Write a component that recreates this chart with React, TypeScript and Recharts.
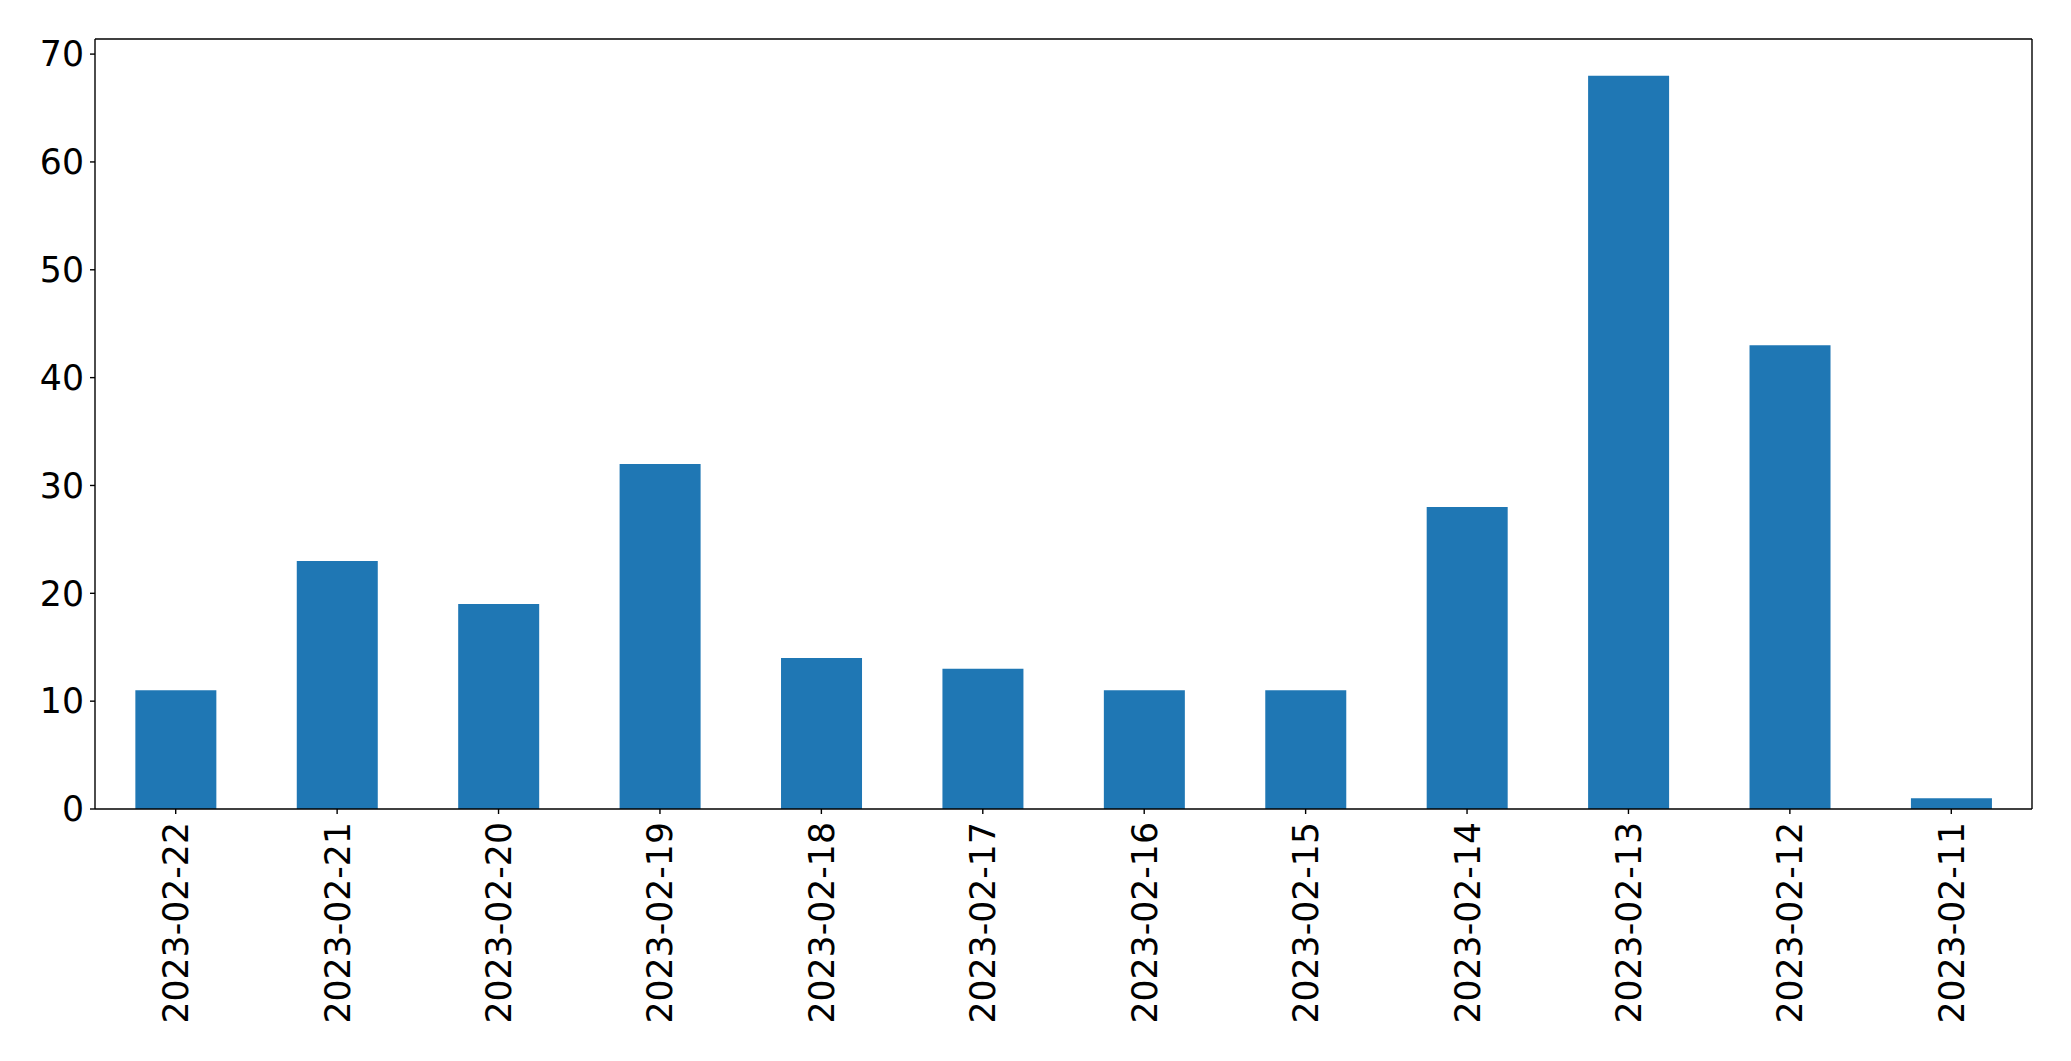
import React from 'react';
import { BarChart, Bar, XAxis, YAxis } from 'recharts';

const categories = [
  '2023-02-22', '2023-02-21', '2023-02-20', '2023-02-19', '2023-02-18', '2023-02-17',
  '2023-02-16', '2023-02-15', '2023-02-14', '2023-02-13', '2023-02-12', '2023-02-11',
];
const counts = [11, 23, 19, 32, 14, 13, 11, 11, 28, 68, 43, 1];
const yTicks = [0, 10, 20, 30, 40, 50, 60, 70];

const data = categories.map((date, i) => ({ date, count: counts[i] }));

const FONT = 'DejaVu Sans';
const FS = 34.7;
const LW = 1.4;

const XTick = (props: any) => {
  const { x, y, payload } = props;
  return (
    <g transform={`translate(${x},${y})`}>
      <text
        transform="rotate(-90)"
        textAnchor="end"
        dx={-8}
        dy="0.36em"
        fontSize={FS}
        fontFamily={FONT}
        fill="#000"
      >
        {payload.value}
      </text>
    </g>
  );
};

export default function App() {
  return (
    <div style={{ position: 'absolute', left: 0, top: 0, width: 2071, height: 1061, background: '#fff' }}>
      <BarChart
        width={2071}
        height={1061}
        data={data}
        margin={{ top: 38, right: 38, left: 0, bottom: 0 }}
        barCategoryGap="25%"
      >
        <XAxis
          dataKey="date"
          height={252}
          interval={0}
          tickSize={5}
          tickMargin={0}
          tick={<XTick />}
          stroke="#000"
          axisLine={{ stroke: '#000', strokeWidth: LW }}
          tickLine={{ stroke: '#000', strokeWidth: LW }}
        />
        <XAxis
          xAxisId="top"
          dataKey="date"
          orientation="top"
          height={1}
          tick={false}
          tickLine={false}
          stroke="#000"
          axisLine={{ stroke: '#000', strokeWidth: LW }}
        />
        <YAxis
          width={95}
          domain={[0, 71.4]}
          ticks={yTicks}
          interval={0}
          tickSize={5}
          tickMargin={6}
          stroke="#000"
          tick={{ fontSize: FS, fontFamily: FONT, fill: '#000' }}
          axisLine={{ stroke: '#000', strokeWidth: LW }}
          tickLine={{ stroke: '#000', strokeWidth: LW }}
        />
        <YAxis
          yAxisId="right"
          orientation="right"
          width={1}
          domain={[0, 71.4]}
          tick={false}
          tickLine={false}
          stroke="#000"
          axisLine={{ stroke: '#000', strokeWidth: LW }}
        />
        <Bar dataKey="count" fill="#1f77b4" isAnimationActive={false} />
      </BarChart>
    </div>
  );
}
